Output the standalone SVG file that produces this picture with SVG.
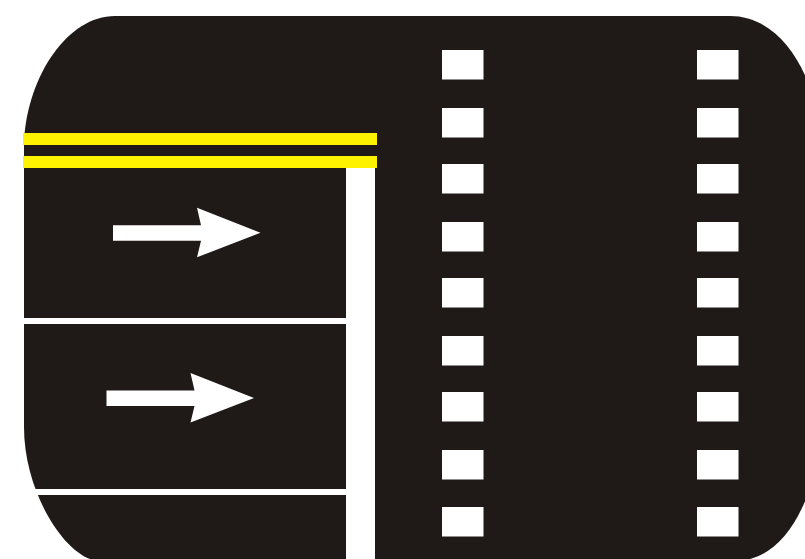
<svg xmlns="http://www.w3.org/2000/svg" width="805" height="559" viewBox="0 0 805 559">
<style>
.w{fill:#fff}
.y{fill:#fff200}
</style>
<defs>
<rect id="d" class="w" width="41.5" height="29.5"/>
<path id="a" class="w" d="M0 0H88L84 -17.500L147.500 7.500L84 32L88 15.500H0Z"/>
</defs>
<rect width="805" height="559" fill="#fff"/>
<path id="road" fill="#1f1a17" d="M115 16H730C782 16 815 75 822 140V430C815 500 785 561 735 561H100C68 561 24 495 24 427V140C28 75 68 16 115 16Z"/>
<rect class="w" x="346" y="168" width="29" height="391"/>
<rect class="w" x="24" y="318" width="322" height="6"/>
<rect class="w" x="24" y="489" width="322" height="6"/>
<rect class="y" x="23" y="133" width="354" height="12"/>
<rect class="y" x="23" y="156" width="354" height="12"/>
<use href="#a" x="113" y="225.300"/>
<use href="#a" x="106.500" y="390.500"/>
<g id="dashes">
<use href="#d" x="442" y="50"/><use href="#d" x="442" y="108"/><use href="#d" x="442" y="164"/><use href="#d" x="442" y="222"/><use href="#d" x="442" y="278"/><use href="#d" x="442" y="336"/><use href="#d" x="442" y="392"/><use href="#d" x="442" y="450"/><use href="#d" x="442" y="507"/>
<use href="#d" x="697" y="50"/><use href="#d" x="697" y="108"/><use href="#d" x="697" y="164"/><use href="#d" x="697" y="222"/><use href="#d" x="697" y="278"/><use href="#d" x="697" y="336"/><use href="#d" x="697" y="392"/><use href="#d" x="697" y="450"/><use href="#d" x="697" y="507"/>
</g>
</svg>
